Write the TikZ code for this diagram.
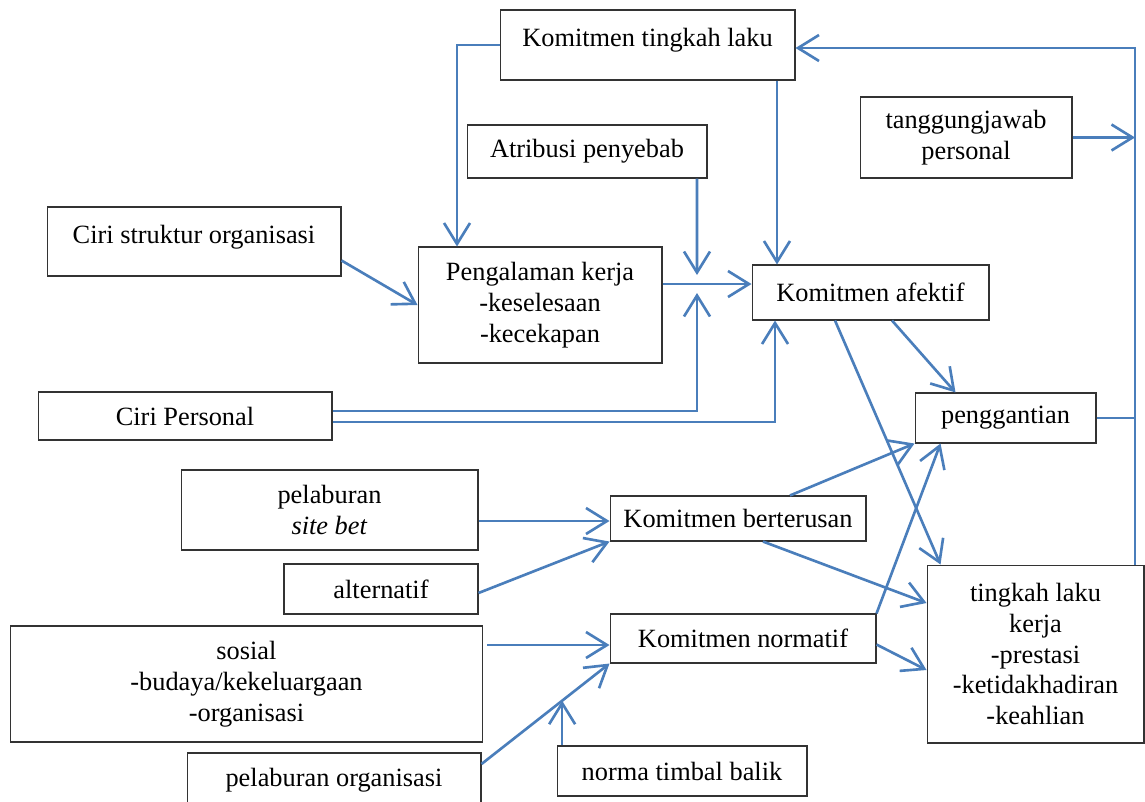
\documentclass[tikz,border=0pt]{standalone}
\usepackage{fontspec}
\setmainfont{Liberation Serif}
\usetikzlibrary{arrows.meta}
\definecolor{linkblue}{HTML}{4A7EBB}
\begin{document}
\begin{tikzpicture}[x=0.02cm,y=-0.02cm,
	box/.style={draw=black!80, line width=0.6pt, inner sep=0pt, align=center,
		font=\fontsize{15}{17.6}\selectfont},
	link/.style={draw=linkblue, line width=1.5pt, -{Straight Barb[length=4.2mm,width=5.2mm]}},
	plain/.style={draw=linkblue, line width=1.5pt}]
	\useasboundingbox (0,0) rectangle (1145,801);
	\node[box, minimum width=5.9cm, minimum height=1.4cm] (ktl) at (647.5,45) {\raisebox{3.2mm}{Komitmen tingkah laku}};
	\node[box, minimum width=4.8cm, minimum height=1.06cm] (atr) at (587,151.5) {Atribusi penyebab};
	\node[box, minimum width=4.24cm, minimum height=1.62cm] (tjp) at (966,137.5) {tanggungjawab\\personal};
	\node[box, minimum width=5.88cm, minimum height=1.38cm] (cso) at (194,241.5) {\raisebox{3mm}{Ciri struktur organisasi}};
	\node[box, minimum width=4.88cm, minimum height=2.32cm] (pk) at (540,305) {Pengalaman kerja\\-keselesaan\\-kecekapan};
	\node[box, minimum width=4.74cm, minimum height=1.1cm] (kaf) at (870.5,292.5) {Komitmen afektif};
	\node[box, minimum width=5.88cm, minimum height=0.96cm] (cp) at (185,416) {Ciri Personal};
	\node[box, minimum width=3.62cm, minimum height=1cm] (peng) at (1005.5,418) {penggantian};
	\node[box, minimum width=5.94cm, minimum height=1.6cm] (psb) at (329.5,510) {pelaburan\\\textit{site bet}};
	\node[box, minimum width=5.12cm, minimum height=0.9cm] (kb) at (738,518.5) {Komitmen berterusan};
	\node[box, minimum width=3.88cm, minimum height=1cm] (alt) at (381,589) {alternatif};
	\node[box, minimum width=4.34cm, minimum height=3.56cm] (tlk) at (1035.5,654) {tingkah laku\\kerja\\-prestasi\\-ketidakhadiran\\-keahlian};
	\node[box, minimum width=9.46cm, minimum height=2.32cm] (sos) at (246.5,684) {sosial\\-budaya/kekeluargaan\\-organisasi};
	\node[box, minimum width=5.32cm, minimum height=0.98cm] (kn) at (743,638.5) {Komitmen normatif};
	\node[box, minimum width=5.88cm, minimum height=1.1cm] (po) at (334,780.5) {pelaburan organisasi};
	\node[box, minimum width=5cm, minimum height=1cm] (ntb) at (682,771) {norma timbal balik};
	\coordinate (jn) at (697,284);
	\coordinate (rt) at (1135,48);
	\draw[link] (ktl.west) -| ([xshift=-1.66cm]pk.north);
	\draw[link] ([xshift=2.59cm]ktl.south) -- ([xshift=2.59cm]ktl.south |- kaf.north);
	\draw[link] ([xshift=2.2cm]atr.south) -- ([yshift=0.18cm]jn);
	\draw[link] ([yshift=0.42cm]pk.east) -- ([yshift=0.42cm]pk.east -| kaf.west);
	\draw[link] ([yshift=-0.38cm]cso.east) -- (pk.west);
	\draw[link] ([yshift=0.1cm]cp.east) -| ([yshift=-0.18cm]jn);
	\draw[link] ([yshift=-0.12cm]cp.east) -| ([xshift=-1.91cm]kaf.south);
	\draw[link] (tlk.north -| rt) -- (rt) -- (ktl.east |- rt);
	\draw[plain] (peng.east) -- (peng.east -| rt);
	\draw[link] (tjp.east) -- (tjp.east -| rt);
	\draw[link] ([xshift=0.43cm]kaf.south) -- ([xshift=-1cm]peng.north);
	\draw[link] ([xshift=-0.71cm]kaf.south) -- ([xshift=-1.9cm]tlk.north);
	\draw[link] ([yshift=-0.22cm]psb.east) -- ([yshift=-0.22cm]psb.east -| kb.west);
	\draw[link] ([yshift=-0.08cm]alt.east) -- (kb.south west);
	\draw[link] ([xshift=1.04cm]kb.north) -- (peng.south west);
	\draw[link] ([xshift=0.5cm]kb.south) -- ([yshift=1.02cm]tlk.west);
	\draw[link] ([xshift=0.08cm,yshift=0.78cm]sos.east) -- ([yshift=0.78cm]sos.east -| kn.west);
	\draw[link] ([yshift=0.33cm]po.east) -- coordinate[pos=0.63] (mid) (kn.south west);
	\draw[link] (ntb.north -| mid) -- (mid);
	\draw[link] (kn.north east) -- ([xshift=-1.3cm]peng.south);
	\draw[link] ([yshift=-0.12cm]kn.east) -- ([yshift=-0.32cm]tlk.west);
\end{tikzpicture}
\end{document}
